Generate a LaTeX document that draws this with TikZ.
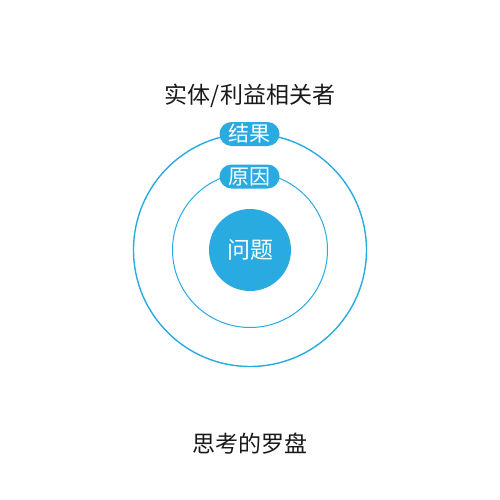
\documentclass[tikz,border=0pt]{standalone}
\usepackage{fontspec}
\setmainfont{Noto Sans CJK SC}
\definecolor{compassblue}{HTML}{29ABE2}
\tikzset{
  ring/.style={draw=compassblue},
  tag/.style={fill=compassblue,text=white,rounded corners=12pt,minimum width=60pt,minimum height=24pt,inner sep=0pt,font=\fontsize{21}{21}\selectfont},
  caption/.style={text=black!90,inner sep=0pt,font=\fontsize{23}{23}\selectfont}
}
\begin{document}
\begin{tikzpicture}[x=1pt,y=-1pt]
      \useasboundingbox[fill=white] (0,0) rectangle (500,500);
      \node[caption] at (250,96) (who) {实体/利益相关者};
      \node[caption] at (250,444) (name) {思考的罗盘};

      % draw rings
      \draw[ring,line width=1.4pt] (250,250) circle (116.5);
      \draw[ring,line width=1pt] (250,250) circle (77.5);
      \node[circle,fill=compassblue,minimum size=82pt,inner sep=0pt,text=white,font=\fontsize{23}{23}\selectfont] at (250,250) (problem) {问题};

      % draw tags
      \node[tag] at (249.5,134) (effect) {结果};
      \node[tag] at (249.5,176.5) (cause) {原因};
  \end{tikzpicture}
\end{document}
